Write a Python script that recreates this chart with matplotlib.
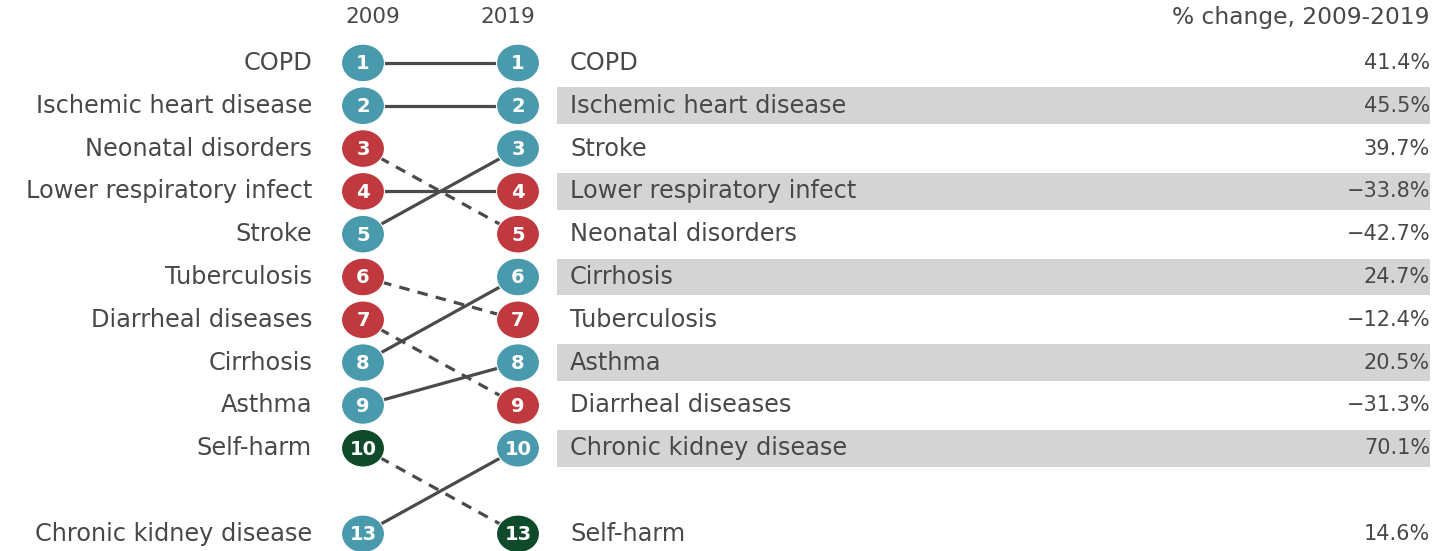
import matplotlib
matplotlib.use("Agg")
import matplotlib.pyplot as plt
from matplotlib.patches import Ellipse, Rectangle

diseases = ["COPD", "Ischemic heart disease", "Neonatal disorders", "Lower respiratory infect",
            "Stroke", "Tuberculosis", "Diarrheal diseases", "Cirrhosis", "Asthma",
            "Self-harm", "Chronic kidney disease"]
rank_2009 = [1, 2, 3, 4, 5, 6, 7, 8, 9, 10, 13]
rank_2019 = [1, 2, 5, 4, 3, 7, 9, 6, 8, 13, 10]
category = ["ncd", "ncd", "comm", "comm", "ncd", "comm", "comm", "ncd", "ncd", "inj", "ncd"]
pct_change = [41.4, 45.5, -42.7, -33.8, 39.7, -12.4, -31.3, 24.7, 20.5, 14.6, 70.1]
year_labels = ["2009", "2019"]
pct_header = "% change, 2009-2019"

colors = {"ncd": "#4A9AAE", "comm": "#C0393F", "inj": "#0F4A2B"}
TEXT = "#484848"

plt.rcParams["font.family"] = ["DejaVu Sans"]


def row_of(r):
    # ranks 1-10 are consecutive rows; lower ranks sit after a one-row gap
    return r - 1 if r <= 10 else 11


fig = plt.figure(figsize=(14.37, 5.51), dpi=100)
ax = fig.add_axes([0, 0, 1, 1])
ax.set_xlim(0, 1437)
ax.set_ylim(11.40, -1.47)
ax.axis("off")

X09, X19 = 363, 518
XL, XR, XP = 312, 570, 1430
FS = 17.3
FS_PCT = 15.0

# grey bands for alternating rows in the right table
for r in rank_2019:
    s = row_of(r)
    if s % 2 == 1 and s < 10:
        ax.add_patch(Rectangle((557, s - 0.43), 1430 - 557, 0.86,
                               facecolor="#D4D4D4", edgecolor="none", zorder=0))

# connecting lines
for d, r0, r1 in zip(diseases, rank_2009, rank_2019):
    ls = (0, (3.3, 2.6)) if r1 > r0 else "-"
    ax.plot([X09, X19], [row_of(r0), row_of(r1)], color="#4a4a4a", lw=2.3,
            linestyle=ls, zorder=1, solid_capstyle="butt")

# rank badges
for d, r0, r1, c in zip(diseases, rank_2009, rank_2019, category):
    for x, r in ((X09, r0), (X19, r1)):
        ax.add_patch(Ellipse((x, row_of(r)), 43, 0.88, facecolor=colors[c],
                             edgecolor="white", linewidth=0.8, zorder=3))
        ax.text(x, row_of(r) + 0.02, str(r), color="white", fontsize=14,
                fontweight="bold", ha="center", va="center", zorder=4)

# left labels (2009 order)
for d, r0 in zip(diseases, rank_2009):
    ax.text(XL, row_of(r0), d, ha="right", va="center", fontsize=FS, color=TEXT)

# right labels and % change (2019 order)
for d, r1, p in zip(diseases, rank_2019, pct_change):
    ax.text(XR, row_of(r1), d, ha="left", va="center", fontsize=FS, color=TEXT)
    txt = f"{p:.1f}%".replace("-", "\u2212")
    ax.text(XP, row_of(r1), txt, ha="right", va="center", fontsize=FS_PCT, color=TEXT)

# headers
ax.text(X09 + 10, -1.07, year_labels[0], ha="center", va="center", fontsize=15.5, color=TEXT)
ax.text(X19 - 10, -1.07, year_labels[1], ha="center", va="center", fontsize=15.5, color=TEXT)
ax.text(XP, -1.07, pct_header, ha="right", va="center", fontsize=16.8, color=TEXT)

fig.savefig("out.png", dpi=100, facecolor="white")
